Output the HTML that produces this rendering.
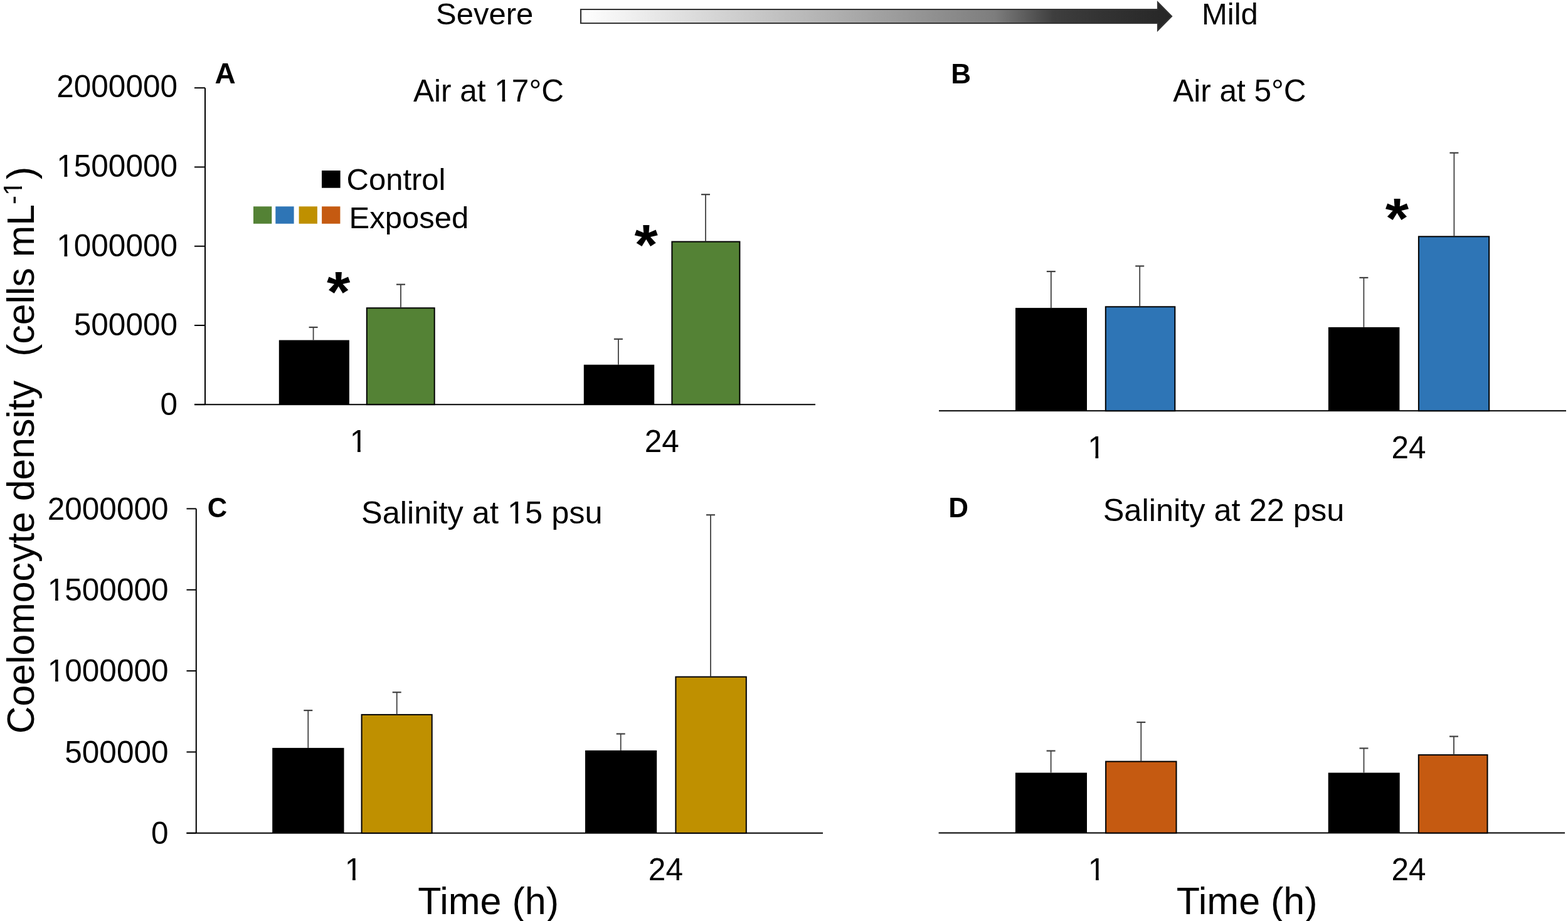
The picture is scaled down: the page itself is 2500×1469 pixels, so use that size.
<!DOCTYPE html>
<html><head><meta charset="utf-8"><title>Coelomocyte density</title><style>html,body{margin:0;padding:0;background:#fff;overflow:hidden}svg{display:block}</style></head><body>
<svg width="2500" height="1469" viewBox="0 0 2500 1469" font-family='"Liberation Sans", Arial, sans-serif'>
<rect width="2500" height="1469" fill="#fff"/>
<defs><linearGradient id="g" gradientUnits="userSpaceOnUse" x1="926" y1="0" x2="1869" y2="0">
<stop offset="0" stop-color="#ffffff"/>
<stop offset="0.70" stop-color="#7d7d7d"/>
<stop offset="0.80" stop-color="#3e3e3e"/>
<stop offset="0.88" stop-color="#333333"/>
<stop offset="1" stop-color="#262626"/>
</linearGradient></defs>
<path d="M926,15 L1846,15 L1846,3.6 L1868,26 L1846,48.4 L1846,37 L926,37 Z" fill="url(#g)" stroke="#333" stroke-width="2.2" stroke-linejoin="miter"/>
<text x="695" y="39" font-size="49" text-anchor="start" font-weight="normal" >Severe</text>
<text x="1916" y="39.2" font-size="49" text-anchor="start" font-weight="normal" >Mild</text>
<text transform="translate(53.5,0) rotate(-90)" font-size="60.7" x="-1170.3" y="0">Coelomocyte density</text>
<text transform="translate(53.5,0) rotate(-90)" font-size="60.7" x="-568.8" y="0">(cells mL</text>
<text transform="translate(53.5,0) rotate(-90)" font-size="42" x="-325.9" y="-19" clip-path="url(#c0)">-1</text>
<text transform="translate(53.5,0) rotate(-90)" font-size="60.7" x="-285.9" y="0">)</text>
<line x1="327" y1="140.2" x2="327" y2="645.2" stroke="#000" stroke-width="2"/>
<line x1="310" y1="645.2" x2="1300" y2="645.2" stroke="#000" stroke-width="2"/>
<line x1="310" y1="140.2" x2="327" y2="140.2" stroke="#000" stroke-width="2"/>
<text x="283" y="155.3" font-size="49.5" text-anchor="end" font-weight="normal" >2000000</text>
<line x1="310" y1="266.45" x2="327" y2="266.45" stroke="#000" stroke-width="2"/>
<text x="283" y="282.3" font-size="49.5" text-anchor="end" font-weight="normal" clip-path="url(#c1)">1500000</text>
<line x1="310" y1="392.70000000000005" x2="327" y2="392.70000000000005" stroke="#000" stroke-width="2"/>
<text x="283" y="409.4" font-size="49.5" text-anchor="end" font-weight="normal" clip-path="url(#c2)">1000000</text>
<line x1="310" y1="518.95" x2="327" y2="518.95" stroke="#000" stroke-width="2"/>
<text x="283" y="535.2" font-size="49.5" text-anchor="end" font-weight="normal" >500000</text>
<line x1="310" y1="645.2" x2="327" y2="645.2" stroke="#000" stroke-width="2"/>
<text x="283" y="662.0" font-size="49.5" text-anchor="end" font-weight="normal" >0</text>
<rect x="444.8" y="542.5" width="112.1" height="102.7" fill="#000"/>
<line x1="499.6" y1="522" x2="499.6" y2="542.5" stroke="#404040" stroke-width="1.8"/>
<line x1="492.6" y1="522" x2="506.6" y2="522" stroke="#404040" stroke-width="2.2"/>
<rect x="584.8" y="491.3" width="107.9" height="153.9" fill="#548235" stroke="#000" stroke-width="2"/>
<line x1="639" y1="453.7" x2="639" y2="491.1" stroke="#404040" stroke-width="1.8"/>
<line x1="632.0" y1="453.7" x2="646.0" y2="453.7" stroke="#404040" stroke-width="2.2"/>
<rect x="930.8" y="581.7" width="112.4" height="63.5" fill="#000"/>
<line x1="985.9" y1="540.8" x2="985.9" y2="581.7" stroke="#404040" stroke-width="1.8"/>
<line x1="978.9" y1="540.8" x2="992.9" y2="540.8" stroke="#404040" stroke-width="2.2"/>
<rect x="1071.4" y="385.5" width="108.0" height="259.7" fill="#548235" stroke="#000" stroke-width="2"/>
<line x1="1125" y1="310.2" x2="1125" y2="385.2" stroke="#404040" stroke-width="1.8"/>
<line x1="1118.0" y1="310.2" x2="1132.0" y2="310.2" stroke="#404040" stroke-width="2.2"/>
<text transform="translate(521.1,496.6) scale(1,0.955)" font-size="96" text-anchor="start" font-weight="bold" >*</text>
<text transform="translate(1011.5,421.6) scale(1,0.955)" font-size="96" text-anchor="start" font-weight="bold" >*</text>
<text x="571.5" y="720.6" font-size="49.5" text-anchor="middle" font-weight="normal" clip-path="url(#c3)">1</text>
<text x="1055.2" y="720.6" font-size="49.5" text-anchor="middle" font-weight="normal" >24</text>
<text x="779" y="161.5" font-size="49.5" text-anchor="middle" font-weight="normal" clip-path="url(#c4)">Air at 17°C</text>
<text x="342.5" y="133.4" font-size="46" text-anchor="start" font-weight="bold" >A</text>
<rect x="513" y="272" width="29.6" height="27.7" fill="#000"/>
<rect x="404" y="329.3" width="29.3" height="27.5" fill="#548235"/>
<rect x="439.3" y="329.3" width="29.3" height="27.5" fill="#2E75B6"/>
<rect x="476.6" y="329.3" width="29.3" height="27.5" fill="#BF9000"/>
<rect x="513.1" y="329.3" width="29.3" height="27.5" fill="#C55A11"/>
<text x="552.5" y="302.7" font-size="49" text-anchor="start" font-weight="normal" >Control</text>
<text x="556.5" y="363.5" font-size="49" text-anchor="start" font-weight="normal" >Exposed</text>
<line x1="1497" y1="655.3" x2="2497" y2="655.3" stroke="#000" stroke-width="2"/>
<rect x="1619" y="491.1" width="114.0" height="164.2" fill="#000"/>
<line x1="1675.8" y1="433" x2="1675.8" y2="491.1" stroke="#404040" stroke-width="1.8"/>
<line x1="1668.8" y1="433" x2="1682.8" y2="433" stroke="#404040" stroke-width="2.2"/>
<rect x="1762.8" y="489.3" width="110.5" height="166.0" fill="#2E75B6" stroke="#000" stroke-width="2"/>
<line x1="1817.2" y1="424.4" x2="1817.2" y2="489" stroke="#404040" stroke-width="1.8"/>
<line x1="1810.2" y1="424.4" x2="1824.2" y2="424.4" stroke="#404040" stroke-width="2.2"/>
<rect x="2117.9" y="521.9" width="113.5" height="133.4" fill="#000"/>
<line x1="2174.4" y1="442.9" x2="2174.4" y2="521.9" stroke="#404040" stroke-width="1.8"/>
<line x1="2167.4" y1="442.9" x2="2181.4" y2="442.9" stroke="#404040" stroke-width="2.2"/>
<rect x="2261.9" y="377.3" width="112.3" height="278.0" fill="#2E75B6" stroke="#000" stroke-width="2"/>
<line x1="2318.4" y1="243.8" x2="2318.4" y2="377" stroke="#404040" stroke-width="1.8"/>
<line x1="2311.4" y1="243.8" x2="2325.4" y2="243.8" stroke="#404040" stroke-width="2.2"/>
<text transform="translate(2208.7,380.4) scale(1,0.955)" font-size="96" text-anchor="start" font-weight="bold" >*</text>
<text x="1748.0" y="730.9" font-size="49.5" text-anchor="middle" font-weight="normal" clip-path="url(#c5)">1</text>
<text x="2246" y="730.9" font-size="49.5" text-anchor="middle" font-weight="normal" >24</text>
<text x="1976.4" y="161.7" font-size="49.5" text-anchor="middle" font-weight="normal" >Air at 5°C</text>
<text x="1516.3" y="132.9" font-size="44" text-anchor="start" font-weight="bold" >B</text>
<line x1="312.8" y1="811.4" x2="312.8" y2="1328.8" stroke="#000" stroke-width="2"/>
<line x1="297.5" y1="1328.8" x2="1312" y2="1328.8" stroke="#000" stroke-width="2"/>
<line x1="297.5" y1="811.4" x2="312.8" y2="811.4" stroke="#000" stroke-width="2"/>
<text x="268.5" y="828.7" font-size="49.5" text-anchor="end" font-weight="normal" >2000000</text>
<line x1="297.5" y1="940.75" x2="312.8" y2="940.75" stroke="#000" stroke-width="2"/>
<text x="268.5" y="958.0" font-size="49.5" text-anchor="end" font-weight="normal" clip-path="url(#c6)">1500000</text>
<line x1="297.5" y1="1070.1" x2="312.8" y2="1070.1" stroke="#000" stroke-width="2"/>
<text x="268.5" y="1087.4" font-size="49.5" text-anchor="end" font-weight="normal" clip-path="url(#c7)">1000000</text>
<line x1="297.5" y1="1199.4499999999998" x2="312.8" y2="1199.4499999999998" stroke="#000" stroke-width="2"/>
<text x="268.5" y="1216.7" font-size="49.5" text-anchor="end" font-weight="normal" >500000</text>
<line x1="297.5" y1="1328.8" x2="312.8" y2="1328.8" stroke="#000" stroke-width="2"/>
<text x="268.5" y="1346.1" font-size="49.5" text-anchor="end" font-weight="normal" >0</text>
<rect x="434.2" y="1192.9" width="114.3" height="135.9" fill="#000"/>
<line x1="491.3" y1="1133.1" x2="491.3" y2="1192.9" stroke="#404040" stroke-width="1.8"/>
<line x1="484.3" y1="1133.1" x2="498.3" y2="1133.1" stroke="#404040" stroke-width="2.2"/>
<rect x="576.6" y="1139.9" width="112.1" height="188.9" fill="#BF9000" stroke="#000" stroke-width="2"/>
<line x1="632.7" y1="1104.2" x2="632.7" y2="1139.6" stroke="#404040" stroke-width="1.8"/>
<line x1="625.7" y1="1104.2" x2="639.7" y2="1104.2" stroke="#404040" stroke-width="2.2"/>
<rect x="933.0" y="1196.9" width="114.2" height="131.9" fill="#000"/>
<line x1="989.7" y1="1170.5" x2="989.7" y2="1196.9" stroke="#404040" stroke-width="1.8"/>
<line x1="982.7" y1="1170.5" x2="996.7" y2="1170.5" stroke="#404040" stroke-width="2.2"/>
<rect x="1077.4" y="1079.6" width="112.4" height="249.2" fill="#BF9000" stroke="#000" stroke-width="2"/>
<line x1="1133" y1="821.3" x2="1133" y2="1079.3" stroke="#404040" stroke-width="1.8"/>
<line x1="1126.0" y1="821.3" x2="1140.0" y2="821.3" stroke="#404040" stroke-width="2.2"/>
<text x="563.5" y="1404.4" font-size="49.5" text-anchor="middle" font-weight="normal" clip-path="url(#c8)">1</text>
<text x="1061.4" y="1404.4" font-size="49.5" text-anchor="middle" font-weight="normal" >24</text>
<text x="778.6" y="1457.9" font-size="61" text-anchor="middle" font-weight="normal" >Time (h)</text>
<text x="768.3" y="834.6" font-size="50.5" text-anchor="middle" font-weight="normal" clip-path="url(#c9)">Salinity at 15 psu</text>
<text x="330.8" y="825.4" font-size="43.5" text-anchor="start" font-weight="bold" >C</text>
<line x1="1496.6" y1="1328.6" x2="2495" y2="1328.6" stroke="#000" stroke-width="2"/>
<rect x="1618.9" y="1232.5" width="114.1" height="96.1" fill="#000"/>
<line x1="1675.6" y1="1197.6" x2="1675.6" y2="1232.5" stroke="#404040" stroke-width="1.8"/>
<line x1="1668.6" y1="1197.6" x2="1682.6" y2="1197.6" stroke="#404040" stroke-width="2.2"/>
<rect x="1763.1" y="1214.6" width="112.4" height="114.0" fill="#C55A11" stroke="#000" stroke-width="2"/>
<line x1="1819.3" y1="1152" x2="1819.3" y2="1214.3" stroke="#404040" stroke-width="1.8"/>
<line x1="1812.3" y1="1152" x2="1826.3" y2="1152" stroke="#404040" stroke-width="2.2"/>
<rect x="2117.7" y="1232.5" width="114.0" height="96.1" fill="#000"/>
<line x1="2174.5" y1="1193.5" x2="2174.5" y2="1232.5" stroke="#404040" stroke-width="1.8"/>
<line x1="2167.5" y1="1193.5" x2="2181.5" y2="1193.5" stroke="#404040" stroke-width="2.2"/>
<rect x="2261.8" y="1204.1" width="109.7" height="124.5" fill="#C55A11" stroke="#000" stroke-width="2"/>
<line x1="2318" y1="1174.6" x2="2318" y2="1203.8" stroke="#404040" stroke-width="1.8"/>
<line x1="2311.0" y1="1174.6" x2="2325.0" y2="1174.6" stroke="#404040" stroke-width="2.2"/>
<text x="1748.5" y="1404.4" font-size="49.5" text-anchor="middle" font-weight="normal" clip-path="url(#c10)">1</text>
<text x="2246" y="1404.4" font-size="49.5" text-anchor="middle" font-weight="normal" >24</text>
<text x="1988.2" y="1457.9" font-size="61" text-anchor="middle" font-weight="normal" >Time (h)</text>
<text x="1951" y="830.7" font-size="50.5" text-anchor="middle" font-weight="normal" >Salinity at 22 psu</text>
<text x="1512.3" y="824.9" font-size="44" text-anchor="start" font-weight="bold" >D</text>
<defs><clipPath id="c0"><rect x="-1500.00" y="-200.00" width="1700.00" height="176.86"/><rect x="-301.55" y="-24.14" width="4.11" height="23.14"/><rect x="-289.41" y="-200.00" width="489.41" height="400.00"/><rect x="-1500.00" y="-200.00" width="1190.08" height="400.00"/><rect x="-1500.00" y="-18.00" width="1700.00" height="218.00"/></clipPath><clipPath id="c1"><rect x="-10.00" y="-10.00" width="2530.00" height="287.60"/><rect x="102.54" y="276.60" width="4.77" height="23.70"/><rect x="116.61" y="-10.00" width="2403.39" height="1510.00"/><rect x="-10.00" y="-10.00" width="102.86" height="1510.00"/><rect x="-10.00" y="283.30" width="2530.00" height="1216.70"/></clipPath><clipPath id="c2"><rect x="-10.00" y="-10.00" width="2530.00" height="414.65"/><rect x="102.54" y="403.65" width="4.77" height="23.70"/><rect x="116.61" y="-10.00" width="2403.39" height="1510.00"/><rect x="-10.00" y="-10.00" width="102.86" height="1510.00"/><rect x="-10.00" y="410.35" width="2530.00" height="1089.65"/></clipPath><clipPath id="c3"><rect x="-10.00" y="-10.00" width="2530.00" height="725.90"/><rect x="569.98" y="714.90" width="4.77" height="23.70"/><rect x="584.05" y="-10.00" width="1935.95" height="1510.00"/><rect x="-10.00" y="-10.00" width="570.31" height="1510.00"/><rect x="-10.00" y="721.60" width="2530.00" height="778.40"/></clipPath><clipPath id="c4"><rect x="-10.00" y="-10.00" width="2530.00" height="166.80"/><rect x="800.58" y="155.80" width="4.77" height="23.70"/><rect x="814.65" y="-10.00" width="1705.35" height="1510.00"/><rect x="-10.00" y="-10.00" width="800.91" height="1510.00"/><rect x="-10.00" y="162.50" width="2530.00" height="1337.50"/></clipPath><clipPath id="c5"><rect x="-10.00" y="-10.00" width="2530.00" height="736.20"/><rect x="1746.48" y="725.20" width="4.77" height="23.70"/><rect x="1760.55" y="-10.00" width="759.45" height="1510.00"/><rect x="-10.00" y="-10.00" width="1746.81" height="1510.00"/><rect x="-10.00" y="731.90" width="2530.00" height="768.10"/></clipPath><clipPath id="c6"><rect x="-10.00" y="-10.00" width="2530.00" height="963.35"/><rect x="88.04" y="952.35" width="4.77" height="23.70"/><rect x="102.11" y="-10.00" width="2417.89" height="1510.00"/><rect x="-10.00" y="-10.00" width="88.36" height="1510.00"/><rect x="-10.00" y="959.05" width="2530.00" height="540.95"/></clipPath><clipPath id="c7"><rect x="-10.00" y="-10.00" width="2530.00" height="1092.70"/><rect x="88.04" y="1081.70" width="4.77" height="23.70"/><rect x="102.11" y="-10.00" width="2417.89" height="1510.00"/><rect x="-10.00" y="-10.00" width="88.36" height="1510.00"/><rect x="-10.00" y="1088.40" width="2530.00" height="411.60"/></clipPath><clipPath id="c8"><rect x="-10.00" y="-10.00" width="2530.00" height="1409.70"/><rect x="561.98" y="1398.70" width="4.77" height="23.70"/><rect x="576.05" y="-10.00" width="1943.95" height="1510.00"/><rect x="-10.00" y="-10.00" width="562.31" height="1510.00"/><rect x="-10.00" y="1405.40" width="2530.00" height="94.60"/></clipPath><clipPath id="c9"><rect x="-10.00" y="-10.00" width="2530.00" height="839.83"/><rect x="821.46" y="828.83" width="4.86" height="23.77"/><rect x="835.78" y="-10.00" width="1684.22" height="1510.00"/><rect x="-10.00" y="-10.00" width="821.61" height="1510.00"/><rect x="-10.00" y="835.60" width="2530.00" height="664.40"/></clipPath><clipPath id="c10"><rect x="-10.00" y="-10.00" width="2530.00" height="1409.70"/><rect x="1746.98" y="1398.70" width="4.77" height="23.70"/><rect x="1761.05" y="-10.00" width="758.95" height="1510.00"/><rect x="-10.00" y="-10.00" width="1747.31" height="1510.00"/><rect x="-10.00" y="1405.40" width="2530.00" height="94.60"/></clipPath></defs>
</svg>
</body></html>
